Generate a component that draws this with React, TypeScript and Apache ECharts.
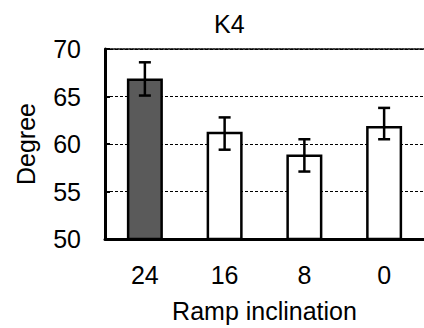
import React, { useEffect, useRef } from "react";
import * as echarts from "echarts";

const categories = ["24", "16", "8", "0"];
const means = [66.9, 61.3, 58.9, 61.9];
const errLow = [65.1, 59.4, 57.1, 60.5];
const errHigh = [68.6, 62.8, 60.5, 63.8];
const yTicks = [50, 55, 60, 65, 70];
const barColors = ["#5a5a5a", "#ffffff", "#ffffff", "#ffffff"];

const FONT = "Liberation Sans, Arial, sans-serif";

export default function App() {
  const ref = useRef<HTMLDivElement>(null);
  useEffect(() => {
    if (!ref.current) return;
    const chart = echarts.init(ref.current, undefined, { renderer: "svg" });
    chart.setOption({
      animation: false,
      backgroundColor: "#ffffff",
      title: {
        text: "K4",
        left: 209,
        top: 6,
        textStyle: { fontFamily: FONT, fontSize: 25, fontWeight: "normal", color: "#000" },
      },
      grid: { left: 105, top: 49, width: 326, height: 191 },
      xAxis: [
        {
          type: "category",
          data: categories,
          boundaryGap: true,
          axisLine: { lineStyle: { color: "#000", width: 3 } },
          axisTick: { inside: true, length: 5, lineStyle: { color: "#000", width: 2.5 } },
          axisLabel: { fontFamily: FONT, fontSize: 25, color: "#000", margin: 23 },
          name: "Ramp inclination",
          nameLocation: "middle",
          nameGap: 59,
          nameTextStyle: { fontFamily: FONT, fontSize: 25, color: "#000" },
        },
        {
          type: "category",
          data: categories,
          position: "top",
          axisLine: { lineStyle: { color: "#000", width: 1.5, type: [2, 1] } },
          axisTick: { show: false },
          axisLabel: { show: false },
        },
      ],
      yAxis: {
        type: "value",
        min: yTicks[0],
        max: yTicks[yTicks.length - 1],
        interval: 5,
        axisLine: { show: true, lineStyle: { color: "#000", width: 3 } },
        axisTick: { show: true, inside: true, length: 5, lineStyle: { color: "#000", width: 2 } },
        axisLabel: { fontFamily: FONT, fontSize: 25, color: "#000", margin: 24 },
        splitLine: { show: true, lineStyle: { color: "#000", width: 1.2, type: [3, 2] } },
        name: "Degree",
        nameLocation: "middle",
        nameGap: 67,
        nameTextStyle: { fontFamily: FONT, fontSize: 25, color: "#000" },
      },
      series: [
        {
          type: "bar",
          barWidth: 36,
          data: means.map((v, i) => ({
            value: v,
            itemStyle: { color: barColors[i], borderColor: "#000", borderWidth: 2.5 },
          })),
          z: 2,
        },
        {
          type: "custom",
          z: 3,
          data: categories.map((c, i) => [i, errLow[i], errHigh[i]]),
          renderItem: (params: any, api: any) => {
            const lo = api.coord([api.value(0), api.value(1)]);
            const hi = api.coord([api.value(0), api.value(2)]);
            const hw = 6;
            const style = { stroke: "#000", lineWidth: 2.5, fill: "none" };
            return {
              type: "group",
              children: [
                { type: "line", shape: { x1: hi[0], y1: hi[1], x2: lo[0], y2: lo[1] }, style },
                { type: "line", shape: { x1: hi[0] - hw, y1: hi[1], x2: hi[0] + hw, y2: hi[1] }, style },
                { type: "line", shape: { x1: lo[0] - hw, y1: lo[1], x2: lo[0] + hw, y2: lo[1] }, style },
              ],
            };
          },
        },
      ],
    });
    return () => chart.dispose();
  }, []);
  return (
    <div
      ref={ref}
      style={{ position: "absolute", left: 0, top: 0, width: 424, height: 328, overflow: "hidden" }}
    />
  );
}
